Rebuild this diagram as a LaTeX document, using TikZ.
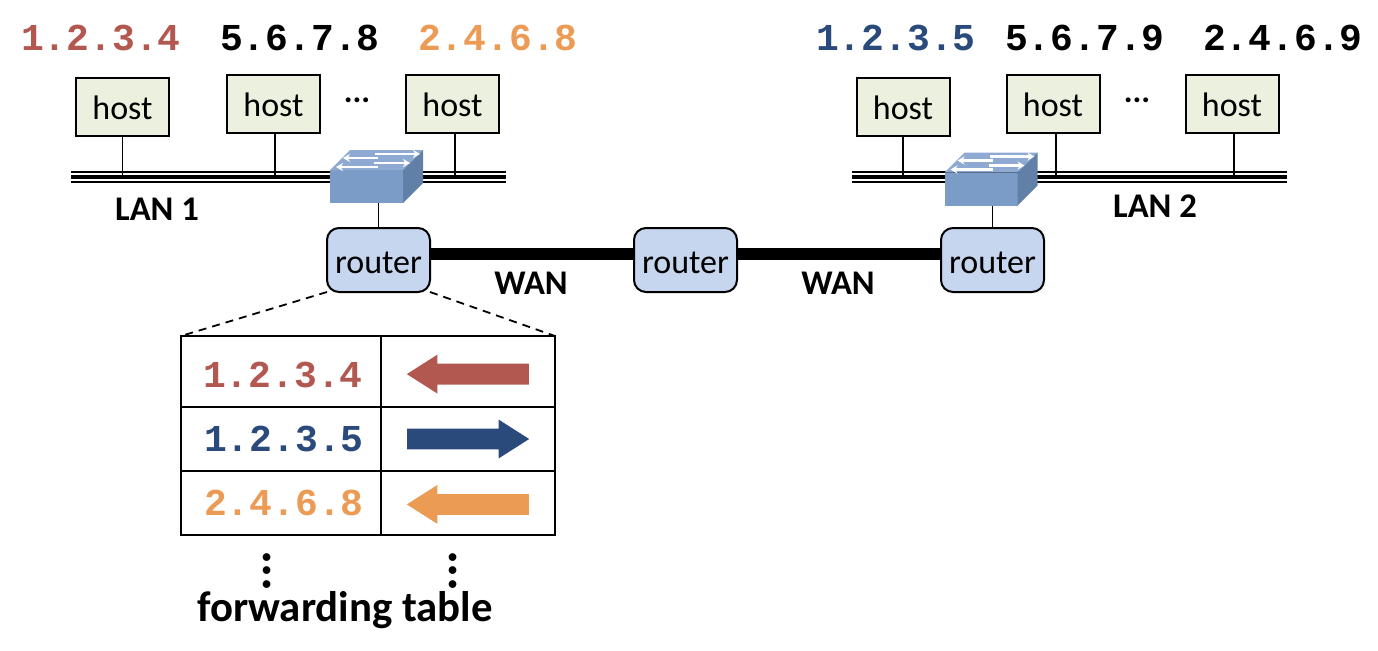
\documentclass[tikz,border=0pt]{standalone}
\usepackage{fontspec}
\setmainfont{Carlito}
\newfontfamily\addrfont{Liberation Mono}
\usetikzlibrary{positioning,shapes.arrows,arrows.meta}

\definecolor{addrred}{HTML}{B35850}
\definecolor{addrblue}{HTML}{2B4A7C}
\definecolor{addrorange}{HTML}{EC9B55}
\definecolor{hostfill}{HTML}{EBF1DE}
\definecolor{routerfill}{HTML}{C6D6EE}
\definecolor{swfront}{HTML}{7C9CC8}
\definecolor{swtop}{HTML}{8FAAD2}
\definecolor{swside}{HTML}{6080A8}

\tikzset{
  hostbox/.style={draw,line width=1pt,fill=hostfill,outer sep=0pt,minimum width=46.5pt,minimum height=29pt,inner sep=0pt,text height=13.5pt,text depth=.7pt,font=\fontsize{17}{18}\selectfont},
  routerbox/.style={draw,line width=1pt,fill=routerfill,rounded corners=6pt,outer sep=0pt,minimum width=51.5pt,minimum height=32pt,inner sep=0pt,text height=15pt,text depth=2pt,font=\fontsize{17}{18}\selectfont},
  swbox/.style={fill=swfront,outer sep=0pt,minimum width=36.5pt,minimum height=16.5pt,inner sep=0pt},
  addr/.style={font=\addrfont\bfseries\fontsize{19}{22}\selectfont,inner sep=0pt},
  lanlabel/.style={font=\bfseries\fontsize{17.3}{18}\selectfont,inner sep=0pt},
  wire/.style={line width=.9pt},
  swarrow/.style={white,line width=1.1pt,-{Stealth[length=3.5pt,width=4pt]}},
  cell/.style={draw,line width=.9pt,outer sep=0pt,inner sep=0pt,minimum height=32pt},
  tabarrow/.style={single arrow,minimum height=61pt,minimum width=19pt,single arrow head extend=4.5pt,single arrow tip angle=65,single arrow head indent=0pt,inner sep=5pt,outer sep=0pt},
  dotsv/.style={rotate=90,inner sep=0pt,font=\bfseries\fontsize{26}{28}\selectfont},
  dotsh/.style={inner sep=0pt,font=\bfseries\fontsize{16.5}{18}\selectfont},
}

% the two faces and the small arrows of a switch, around its front node
\newcommand{\swfaces}[1]{
  \begin{scope}[shift={(#1.north west)}]
    \fill[swtop] (0,0) -- (20,-20) -- (93,-20) -- (73,0) -- cycle;
    \fill[swside] (73,0) -- (93,-20) -- (93,13) -- (73,33) -- cycle;
    \draw[swarrow] (45,-16) -- (90,-16);
    \draw[swarrow] (48,-12) -- (13,-12);
    \draw[swarrow] (44,-7) -- (80,-7);
    \draw[swarrow] (48,-3) -- (6,-3);
  \end{scope}
}

\begin{document}
\begin{tikzpicture}[x=.5pt,y=-.5pt]
    \useasboundingbox (0,0) rectangle (1378,650);

    % addresses
    \node[addr,text=addrred] (addr1a) at (101,38) {1.2.3.4};
    \node[addr] (addr1b) at (300,38) {5.6.7.8};
    \node[addr,text=addrorange] (addr1c) at (498,38) {2.4.6.8};
    \node[addr,text=addrblue] (addr2a) at (896,38) {1.2.3.5};
    \node[addr] (addr2b) at (1085,38) {5.6.7.9};
    \node[addr] (addr2c) at (1283,38) {2.4.6.9};

    % hosts
    \node[hostbox] (host1a) at (122.5,107) {host};
    \node[hostbox] (host1b) [right=29pt of host1a,yshift=1.5pt] {host};
    \node[hostbox] (host1c) [right=43pt of host1b] {host};
    \node[hostbox] (host2a) at (903,107) {host};
    \node[hostbox] (host2b) [right=28.5pt of host2a,yshift=1.5pt] {host};
    \node[hostbox] (host2c) [right=43pt of host2b] {host};
    \node[dotsh] (more1) at (357,100) {...};
    \node[dotsh] (more2) at (1137,100) {...};

    % LAN buses
    \coordinate (lan1w) at (71,177);
    \coordinate (lan1e) at (506,177);
    \coordinate (lan2w) at (852,177);
    \coordinate (lan2e) at (1287,177);
    \foreach \w/\e in {lan1w/lan1e,lan2w/lan2e} {
      \draw[line width=2pt] (\w) -- (\e);
      \draw[line width=.8pt] ([yshift=2.6pt]\w) -- ([yshift=2.6pt]\e);
      \draw[line width=.8pt] ([yshift=-2.6pt]\w) -- ([yshift=-2.6pt]\e);
    }
    \draw[wire] (host1a.south) -- (host1a.south |- lan1w);
    \draw[wire] ([xshift=.75pt]host1b.south) -- ([xshift=.75pt]host1b.south |- lan1w);
    \draw[wire] ([xshift=1.25pt]host1c.south) -- ([xshift=1.25pt]host1c.south |- lan1w);
    \draw[wire] (host2a.south) -- (host2a.south |- lan2w);
    \draw[wire] ([xshift=1.5pt]host2b.south) -- ([xshift=1.5pt]host2b.south |- lan2w);
    \draw[wire] ([xshift=1pt]host2c.south) -- ([xshift=1pt]host2c.south |- lan2w);

    % routers and switches
    \node[routerbox] (router1) at (378.5,260) {router};
    \node[routerbox] (router2) [right=102pt of router1] {router};
    \node[routerbox] (router3) [right=102pt of router2] {router};
    \node[swbox] (switch1) at (366.5,186.5) {};
    \node[swbox] (switch2) at (981,189) {};
    \swfaces{switch1}
    \swfaces{switch2}
    \draw[wire] (router1.north) -- (router1.north |- switch1.south);
    \draw[wire] (router3.north) -- (router3.north |- switch2.south);
    \draw[line width=6pt] ([yshift=3pt]router1.east) -- ([yshift=3pt]router2.west);
    \draw[line width=6pt] ([yshift=3pt]router2.east) -- ([yshift=3pt]router3.west);

    \node[lanlabel] (lan1) at (157,209) {LAN 1};
    \node[lanlabel] (lan2) at (1155,206) {LAN 2};
    \node[lanlabel] (wan1) at (531,283) {WAN};
    \node[lanlabel] (wan2) at (838,283) {WAN};

    % forwarding table
    \node[cell,minimum width=100pt,minimum height=35.5pt] (c1a) at (281,371.5) {};
    \node[cell,minimum width=87pt,minimum height=35.5pt] (c1b) [right=0pt of c1a] {};
    \node[cell,minimum width=100pt] (c2a) [below=0pt of c1a] {};
    \node[cell,minimum width=87pt] (c2b) [right=0pt of c2a] {};
    \node[cell,minimum width=100pt] (c3a) [below=0pt of c2a] {};
    \node[cell,minimum width=87pt] (c3b) [right=0pt of c3a] {};
    \node[addr,text=addrred] (entry1) at ([xshift=1pt,yshift=-1.5pt]c1a) {1.2.3.4};
    \node[addr,text=addrblue] (entry2) at ([xshift=1.5pt]c2a) {1.2.3.5};
    \node[addr,text=addrorange] (entry3) at ([xshift=1.5pt]c3a) {2.4.6.8};
    \node[tabarrow,fill=addrred,shape border rotate=180] (out1) at ([xshift=4pt,yshift=-1.3pt]c1b) {};
    \node[tabarrow,fill=addrblue] (out2) at ([xshift=-4pt]c2b) {};
    \node[tabarrow,fill=addrorange,shape border rotate=180] (out3) at ([xshift=4pt,yshift=-.7pt]c3b) {};
    \draw[line width=.9pt,dash pattern=on 4pt off 3pt] (router1.south west) -- (c1a.north west);
    \draw[line width=.9pt,dash pattern=on 4pt off 3pt] (router1.south east) -- (c1b.north east);

    \node[dotsv] (vdots1) at (267,571) {...};
    \node[dotsv] (vdots2) at (453,571) {...};
    \node[inner sep=0pt,font=\bfseries\fontsize{21.4}{24}\selectfont] (fwdtable) at (345,610) {forwarding table};
\end{tikzpicture}
\end{document}
